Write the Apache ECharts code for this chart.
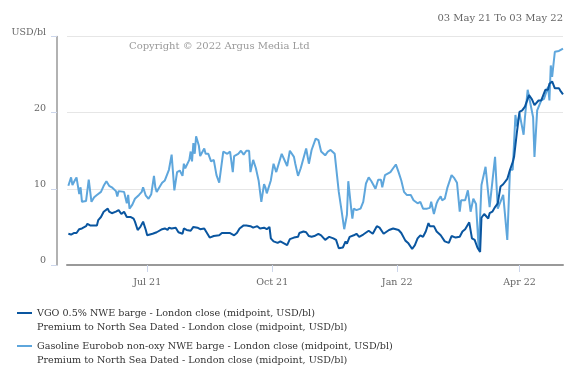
<!DOCTYPE html>
<html>
<head>
<meta charset="utf-8">
<script src="https://cdn.jsdelivr.net/npm/echarts@6/dist/echarts.min.js"></script>
<style>html,body{margin:0;padding:0;background:#fff}#c{width:573px;height:382px}</style>
</head>
<body>
<div id="c"></div>
<script>
var titleText = '03 May 21 To 03 May 22';
var copyrightText = 'Copyright \u00a9 2022 Argus Media Ltd';
var yUnit = 'USD/bl';
var xRange = ['2021-05-03', '2022-05-03'];
var xTickDates = ['2021-07-01', '2021-10-01', '2022-01-01', '2022-04-01'];
var xTickLabels = ['Jul 21', 'Oct 21', 'Jan 22', 'Apr 22'];
var vgoName = 'VGO 0.5% NWE barge - London close (midpoint, USD/bl)\nPremium to North Sea Dated - London close (midpoint, USD/bl)';
var gasName = 'Gasoline Eurobob non-oxy NWE barge - London close (midpoint, USD/bl)\nPremium to North Sea Dated - London close (midpoint, USD/bl)';

var vgoDates = ['2021-05-04','2021-05-06','2021-05-08','2021-05-10','2021-05-12','2021-05-14','2021-05-17','2021-05-18','2021-05-20','2021-05-23','2021-05-25','2021-05-26','2021-05-28','2021-05-30','2021-06-02','2021-06-03','2021-06-05','2021-06-08','2021-06-10','2021-06-12','2021-06-14','2021-06-16','2021-06-19','2021-06-21','2021-06-22','2021-06-24','2021-06-26','2021-06-28','2021-06-30','2021-07-01','2021-07-05','2021-07-08','2021-07-12','2021-07-14','2021-07-16','2021-07-17','2021-07-19','2021-07-22','2021-07-24','2021-07-27','2021-07-28','2021-07-30','2021-08-02','2021-08-04','2021-08-07','2021-08-09','2021-08-12','2021-08-14','2021-08-16','2021-08-19','2021-08-23','2021-08-25','2021-08-29','2021-08-31','2021-09-03','2021-09-05','2021-09-07','2021-09-10','2021-09-12','2021-09-15','2021-09-17','2021-09-20','2021-09-22','2021-09-25','2021-09-27','2021-09-29','2021-09-30','2021-10-02','2021-10-05','2021-10-07','2021-10-10','2021-10-12','2021-10-14','2021-10-17','2021-10-20','2021-10-21','2021-10-24','2021-10-26','2021-10-28','2021-10-30','2021-11-01','2021-11-04','2021-11-06','2021-11-09','2021-11-12','2021-11-15','2021-11-17','2021-11-19','2021-11-22','2021-11-24','2021-11-25','2021-11-27','2021-11-30','2021-12-02','2021-12-04','2021-12-07','2021-12-11','2021-12-14','2021-12-17','2021-12-19','2021-12-22','2021-12-26','2021-12-29','2022-01-02','2022-01-04','2022-01-07','2022-01-09','2022-01-12','2022-01-14','2022-01-16','2022-01-18','2022-01-20','2022-01-22','2022-01-24','2022-01-25','2022-01-28','2022-01-30','2022-02-02','2022-02-05','2022-02-08','2022-02-10','2022-02-13','2022-02-16','2022-02-18','2022-02-20','2022-02-23','2022-02-25','2022-02-27','2022-03-01','2022-03-03','2022-03-04','2022-03-06','2022-03-09','2022-03-10','2022-03-12','2022-03-14','2022-03-16','2022-03-18','2022-03-20','2022-03-23','2022-03-25','2022-03-27','2022-03-28','2022-03-30','2022-04-01','2022-04-03','2022-04-05','2022-04-08','2022-04-10','2022-04-12','2022-04-15','2022-04-17','2022-04-20','2022-04-22','2022-04-23','2022-04-25','2022-04-27','2022-04-30','2022-05-01','2022-05-03'];
var vgoValues = [4.1,4.0,4.2,4.2,4.7,4.8,5.1,5.4,5.2,5.2,5.2,5.9,6.3,7.0,7.4,7.0,6.8,7.0,7.2,6.7,7.0,6.3,6.3,6.1,5.7,4.6,5.0,5.7,4.6,3.9,4.1,4.3,4.7,4.8,4.6,4.9,4.8,4.9,4.3,4.1,4.8,4.6,4.5,5.0,4.9,4.7,4.8,4.2,3.6,3.8,3.9,4.2,4.2,4.2,3.9,4.2,4.8,5.2,5.2,5.1,4.9,5.1,4.8,4.9,4.7,5.0,3.5,3.1,2.9,3.1,2.8,2.6,3.4,3.6,3.7,4.2,4.4,4.3,3.8,3.7,3.8,4.1,3.9,3.3,3.7,3.5,3.3,2.2,2.3,3.1,2.8,3.7,3.9,4.1,3.7,4.0,4.5,4.1,5.1,4.9,4.1,4.6,4.8,4.6,4.2,3.2,2.9,2.1,2.6,3.5,3.9,3.7,4.4,5.5,5.1,5.1,4.4,3.9,3.1,2.9,3.8,3.6,3.7,4.4,4.7,5.6,3.5,3.3,2.3,1.7,6.2,6.7,6.1,6.8,7.0,7.6,8.1,10.3,10.6,11.3,12.5,13.5,14.2,17.3,20.1,20.3,20.8,22.3,21.8,21.0,21.6,21.6,23.0,23.0,23.8,24.1,23.2,23.2,22.9,22.4];

var gasDates = ['2021-05-04','2021-05-06','2021-05-07','2021-05-09','2021-05-10','2021-05-12','2021-05-13','2021-05-14','2021-05-17','2021-05-18','2021-05-19','2021-05-21','2021-05-23','2021-05-25','2021-05-28','2021-05-30','2021-06-01','2021-06-03','2021-06-05','2021-06-08','2021-06-09','2021-06-10','2021-06-14','2021-06-15','2021-06-16','2021-06-17','2021-06-18','2021-06-20','2021-06-22','2021-06-25','2021-06-27','2021-06-28','2021-06-30','2021-07-02','2021-07-04','2021-07-06','2021-07-07','2021-07-08','2021-07-10','2021-07-12','2021-07-14','2021-07-17','2021-07-19','2021-07-21','2021-07-23','2021-07-25','2021-07-27','2021-07-28','2021-07-29','2021-08-01','2021-08-02','2021-08-03','2021-08-04','2021-08-05','2021-08-06','2021-08-08','2021-08-09','2021-08-12','2021-08-13','2021-08-15','2021-08-17','2021-08-19','2021-08-21','2021-08-23','2021-08-26','2021-08-29','2021-08-31','2021-09-02','2021-09-03','2021-09-06','2021-09-08','2021-09-10','2021-09-12','2021-09-14','2021-09-15','2021-09-17','2021-09-19','2021-09-21','2021-09-22','2021-09-23','2021-09-25','2021-09-26','2021-09-27','2021-09-30','2021-10-02','2021-10-04','2021-10-08','2021-10-12','2021-10-14','2021-10-17','2021-10-18','2021-10-20','2021-10-22','2021-10-26','2021-10-28','2021-10-30','2021-11-02','2021-11-04','2021-11-06','2021-11-09','2021-11-11','2021-11-13','2021-11-16','2021-11-19','2021-11-21','2021-11-23','2021-11-25','2021-11-26','2021-11-28','2021-11-29','2021-11-30','2021-12-02','2021-12-05','2021-12-07','2021-12-09','2021-12-11','2021-12-13','2021-12-16','2021-12-18','2021-12-20','2021-12-21','2021-12-23','2021-12-27','2021-12-29','2021-12-31','2022-01-02','2022-01-04','2022-01-06','2022-01-08','2022-01-11','2022-01-13','2022-01-14','2022-01-16','2022-01-18','2022-01-20','2022-01-23','2022-01-25','2022-01-26','2022-01-28','2022-01-30','2022-01-31','2022-02-02','2022-02-03','2022-02-05','2022-02-07','2022-02-10','2022-02-12','2022-02-14','2022-02-16','2022-02-17','2022-02-20','2022-02-22','2022-02-24','2022-02-26','2022-02-28','2022-03-02','2022-03-04','2022-03-07','2022-03-10','2022-03-14','2022-03-16','2022-03-20','2022-03-23','2022-03-25','2022-03-27','2022-03-29','2022-03-30','2022-04-01','2022-04-04','2022-04-05','2022-04-07','2022-04-09','2022-04-11','2022-04-12','2022-04-14','2022-04-17','2022-04-19','2022-04-20','2022-04-22','2022-04-23','2022-04-24','2022-04-25','2022-04-27','2022-04-30','2022-05-03'];
var gasValues = [10.4,11.5,10.5,11.2,11.5,9.3,10.2,8.3,8.4,8.5,11.2,8.3,8.9,9.2,9.6,10.4,11.0,10.4,10.2,9.7,9.0,9.7,9.6,9.5,8.1,9.2,7.4,7.9,8.7,9.2,9.6,10.2,9.1,8.7,9.3,11.7,10.2,9.6,10.2,10.8,11.1,12.5,14.5,9.8,12.2,12.4,11.7,13.3,12.7,13.8,14.9,13.6,16.0,14.6,16.9,15.7,14.3,15.3,14.6,14.6,13.6,13.8,11.8,10.8,14.9,14.6,14.9,12.2,14.3,14.6,15.0,14.5,15.0,15.0,12.2,13.8,12.7,11.1,11.3,8.3,10.6,10.2,9.4,11.1,13.3,12.2,14.6,13.0,15.0,14.2,13.3,11.7,12.7,15.3,13.3,15.1,16.6,16.4,14.9,14.4,14.9,15.1,14.6,9.6,7.2,4.7,6.6,11.0,7.6,6.1,7.4,7.2,7.4,8.3,10.7,11.5,11.0,10.0,11.2,11.2,10.2,11.8,12.2,12.7,13.2,12.2,11.1,9.6,9.2,9.2,8.5,8.7,8.1,8.3,7.4,7.4,7.5,8.3,6.7,8.1,8.5,9.0,8.5,8.7,10.2,11.8,11.4,10.8,7.0,8.5,8.5,9.8,7.0,8.7,8.0,2.0,10.5,12.9,7.6,14.2,7.4,9.2,3.3,12.5,12.5,19.7,18.2,19.9,17.1,19.4,23.0,21.2,19.4,14.2,20.3,21.6,21.8,21.6,23.4,21.6,26.2,24.7,28.0,28.1,28.4];

function parseLocal(s) {
  var p = s.split('-');
  return Date.UTC(+p[0], +p[1] - 1, +p[2]);
}
function zip(dates, vals) {
  return dates.map(function (d, i) { return [parseLocal(d), vals[i]]; });
}
var tickTimes = xTickDates.map(parseLocal);

var FONT = 'DejaVu Serif';
// legend icon: short bar at the top of a 15x16 box so it lines up with the first text line
var legendIcon = 'path://M0,0H15V2H0Z M0,15.98H15V16H0Z';
var chart = echarts.init(document.getElementById('c'), null, {renderer: 'canvas'});
chart.setOption({
  animation: false,
  backgroundColor: '#ffffff',
  textStyle: {fontFamily: FONT},
  title: {
    text: titleText, right: 10, top: 13, padding: 0,
    textStyle: {fontFamily: FONT, fontSize: 10, fontWeight: 'normal', color: '#666666'}
  },
  graphic: [{
    type: 'text', left: 129, top: 41,
    style: {text: copyrightText, font: '10px "DejaVu Serif"', fill: '#999999'}
  }],
  grid: {left: 67, right: 10, top: 36.5, bottom: 117},
  legend: {
    orient: 'vertical', left: 17, top: 306, padding: 0, itemGap: 5,
    icon: legendIcon, itemWidth: 15, itemHeight: 16,
    textStyle: {fontFamily: FONT, fontSize: 9.6, color: '#333333', lineHeight: 14},
    data: [vgoName, gasName]
  },
  xAxis: {
    type: 'value',
    min: parseLocal(xRange[0]), max: parseLocal(xRange[1]),
    axisLine: {show: true, lineStyle: {color: '#999999', width: 2}},
    axisTick: {show: true, customValues: tickTimes, length: 7, lineStyle: {color: '#ccd6eb'}},
    axisLabel: {
      customValues: tickTimes, color: '#666666', fontSize: 9.5, fontFamily: FONT, margin: 13,
      formatter: function (v) {
        for (var i = 0; i < tickTimes.length; i++) if (Math.abs(tickTimes[i] - v) < 43200000) return xTickLabels[i];
        return '';
      }
    },
    splitLine: {show: false}
  },
  yAxis: {
    type: 'value', min: 0, max: 30, interval: 10, offset: 10,
    axisLine: {show: true, lineStyle: {color: '#999999', width: 1.5}},
    axisTick: {show: true, length: 6, lineStyle: {color: '#ccd6eb'}},
    axisLabel: {
      color: '#666666', fontSize: 9.5, fontFamily: FONT, margin: 11,
      verticalAlign: 'bottom', lineHeight: 8,
      formatter: function (v) { return v === 30 ? yUnit : String(v); }
    },
    splitLine: {show: true, lineStyle: {color: '#e6e6e6', width: 1}}
  },
  series: [
    {name: vgoName, type: 'line', data: zip(vgoDates, vgoValues), showSymbol: false, symbol: 'none',
     lineStyle: {color: '#0a56a0', width: 2}, itemStyle: {color: '#0a56a0'}, z: 3},
    {name: gasName, type: 'line', data: zip(gasDates, gasValues), showSymbol: false, symbol: 'none',
     lineStyle: {color: '#5ea6dc', width: 2}, itemStyle: {color: '#5ea6dc'}, z: 2}
  ]
});
</script>
</body>
</html>
